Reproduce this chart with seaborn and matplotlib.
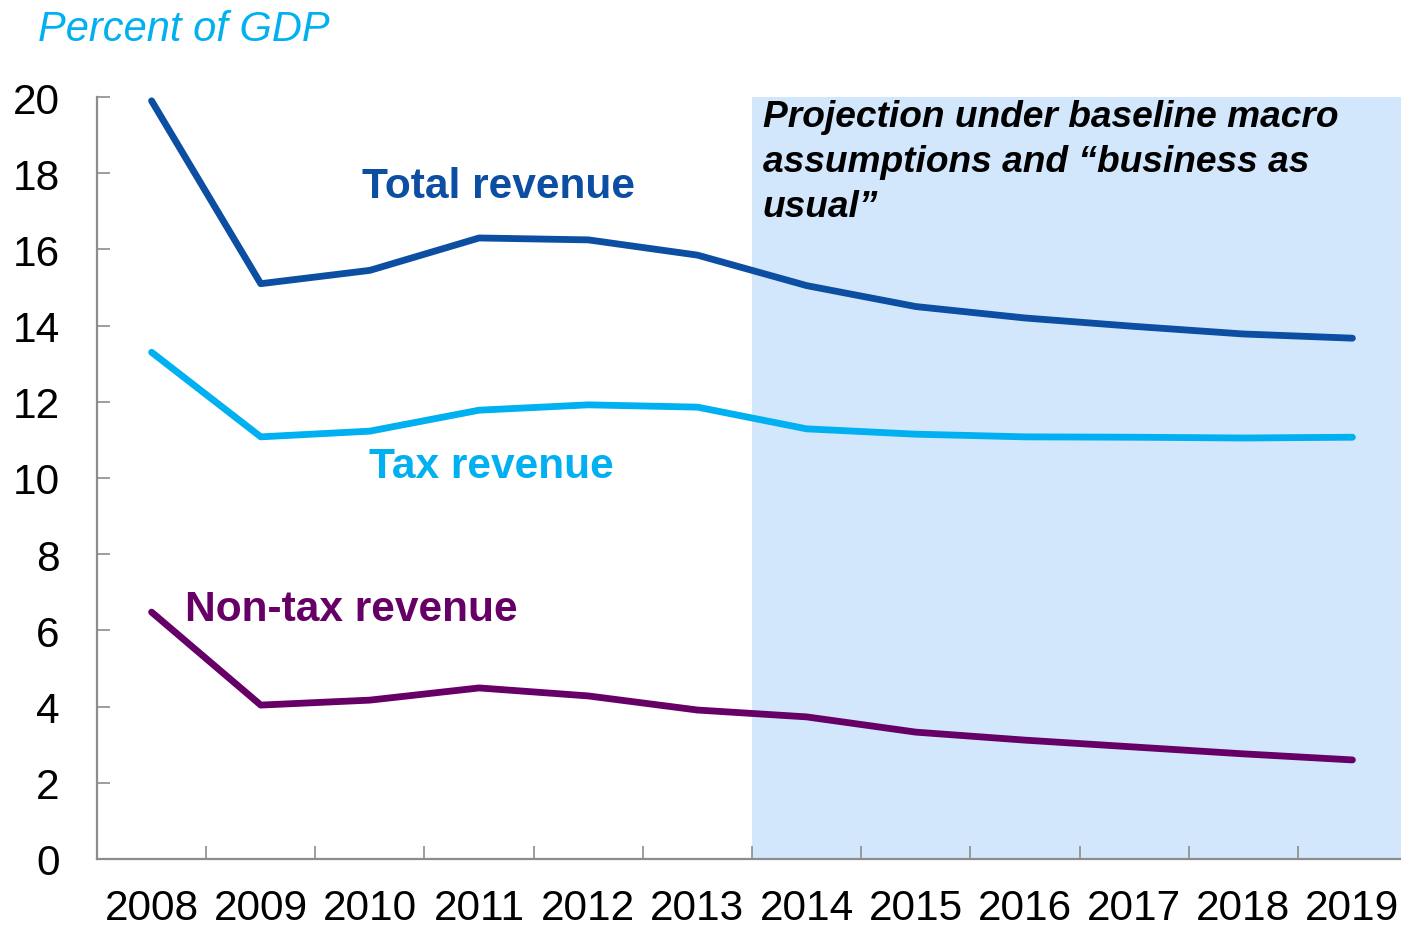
import matplotlib
matplotlib.use("Agg")
import matplotlib.pyplot as plt
import seaborn as sns
import pandas as pd
import numpy as np

# Revenue as a share of GDP, 2008-2019 (2014 onward projected)
years = ["2008", "2009", "2010", "2011", "2012", "2013",
         "2014", "2015", "2016", "2017", "2018", "2019"]
total_revenue = [19.9, 15.1, 15.45, 16.3, 16.25, 15.85, 15.05, 14.5, 14.2, 13.98, 13.78, 13.67]
tax_revenue = [13.3, 11.08, 11.23, 11.78, 11.92, 11.86, 11.29, 11.15, 11.08, 11.07, 11.05, 11.07]
nontax_revenue = [6.48, 4.04, 4.17, 4.49, 4.28, 3.91, 3.73, 3.33, 3.12, 2.94, 2.76, 2.6]
series_names = ["Total revenue", "Tax revenue", "Non-tax revenue"]
series_colors = ["#0B4EA2", "#00B0F0", "#660066"]
projection_start = "2014"
unit_label = "Percent of GDP"
projection_note = "Projection under baseline macro\nassumptions and \u201cbusiness as\nusual\u201d"

sns.set_theme(style="white")
plt.rcParams["font.family"] = ["Liberation Sans", "DejaVu Sans"]

idx = np.arange(len(years))
df = pd.concat([
    pd.DataFrame({"pos": idx, "value": vals, "series": name})
    for name, vals in zip(series_names, [total_revenue, tax_revenue, nontax_revenue])
])

fig = plt.figure(figsize=(14.01, 9.29), dpi=100)
# the plot area runs slightly past the right edge of the canvas
ax = fig.add_axes([97 / 1401, 69 / 929, (1407 - 97) / 1401, (860 - 98) / 929])

# shaded projection period
p0 = years.index(projection_start) - 0.5
ax.axvspan(p0, len(years) - 0.5, ymin=0, ymax=1, color="#D3E7FC", lw=0, zorder=0)

sns.lineplot(data=df, x="pos", y="value", hue="series", hue_order=series_names,
             palette=series_colors, linewidth=4.9, legend=False, ax=ax,
             solid_capstyle="round", solid_joinstyle="round", zorder=3)

ax.set_xlim(-0.5, len(years) - 0.5)
ax.set_ylim(0, 20)
ax.set_xlabel("")
ax.set_ylabel("")

# category boundaries carry tick marks, names sit in the middle
ax.set_xticks(idx[:-1] + 0.5)
ax.set_xticklabels([])
ax.set_xticks(idx, minor=True)
ax.set_xticklabels(years, minor=True)
ax.tick_params(axis="x", which="major", direction="in", length=9.5, width=1.2,
               color="#8C8C8C", bottom=True)
ax.tick_params(axis="x", which="minor", length=0, pad=21, labelsize=30.5,
               labelcolor="black")
ax.set_yticks(np.arange(0, 21, 2))
ax.tick_params(axis="y", direction="in", length=9, width=1.2, color="#8C8C8C",
               left=True, pad=27, labelsize=30.5, labelcolor="black")

for side in ["top", "right"]:
    ax.spines[side].set_visible(False)
for side in ["left", "bottom"]:
    ax.spines[side].set_color("#8C8C8C")
    ax.spines[side].set_linewidth(1.6)
    ax.spines[side].set_zorder(4)

# series labels
ax.text(1.93, 17.66, series_names[0], color=series_colors[0], fontsize=30.6,
        fontweight="bold", va="center", ha="left")
ax.text(1.99, 10.31, series_names[1], color=series_colors[1], fontsize=30.6,
        fontweight="bold", va="center", ha="left")
ax.text(0.31, 6.56, series_names[2], color=series_colors[2], fontsize=30.6,
        fontweight="bold", va="center", ha="left")

ax.text(5.6, 19.95, projection_note, fontsize=26.7, fontweight="bold",
        fontstyle="italic", va="top", ha="left", color="black", linespacing=1.38,
        family=["Liberation Sans Narrow", "Liberation Sans", "DejaVu Sans"])

fig.text(38 / 1401, 1 - 41 / 929, unit_label, fontsize=30, fontstyle="italic",
         color="#00B0F0", va="baseline", ha="left")

fig.savefig("out.png", dpi=100)
